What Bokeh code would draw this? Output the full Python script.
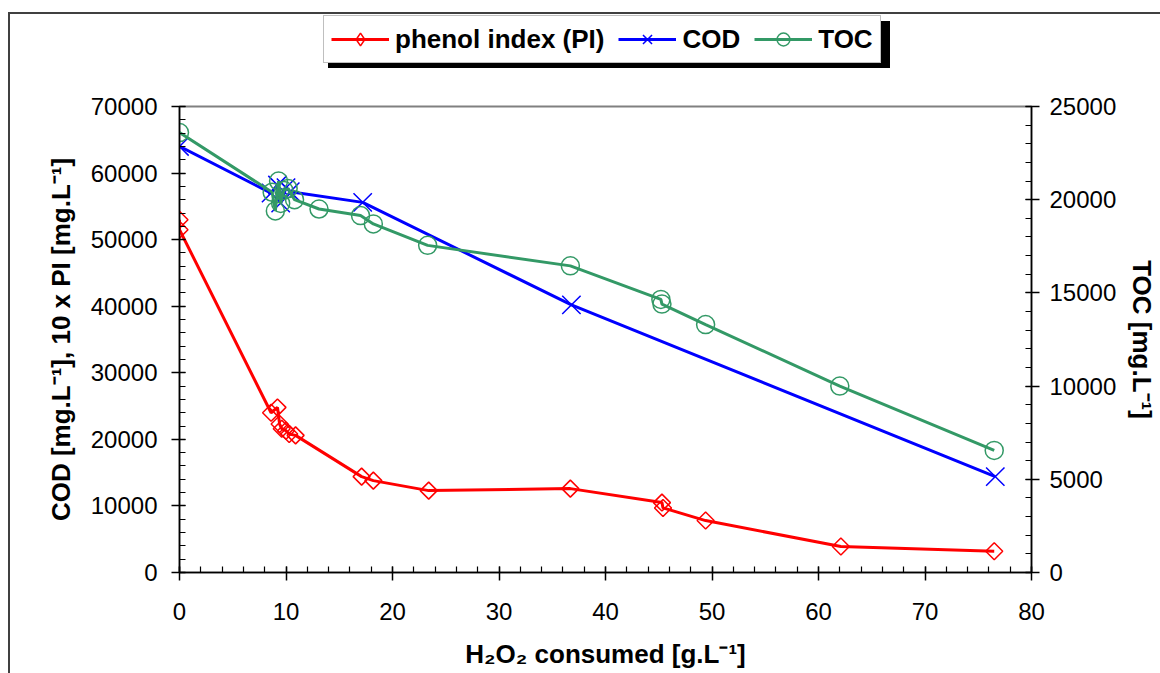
from bokeh.plotting import figure
from bokeh.layouts import column
from bokeh.models import (Range1d, LinearAxis, FixedTicker, BasicTickFormatter,
                          Legend, LegendItem, InlineStyleSheet)
from bokeh.embed import file_html
from bokeh.resources import INLINE

# ---------------- data ----------------
pi_x = [0.0, 0.0, 8.6, 9.2, 9.4, 9.6, 10.0, 10.3, 10.9, 17.1, 18.2, 23.4, 36.7, 45.3, 45.4, 49.4, 62.1, 76.5]
pi_y = [53000, 51500, 24000, 24800, 22300, 21600, 21300, 20800, 20600, 14400, 13800, 12300, 12600, 10500, 9700, 7800, 3900, 3200]

cod_x = [0.0, 8.6, 9.2, 9.5, 10.0, 10.4, 17.2, 36.8, 76.6]
cod_y = [64000, 57000, 58200, 55500, 57800, 57200, 55600, 40200, 14400]

toc_x = [0.0, 8.7, 9.0, 9.3, 9.5, 9.8, 10.2, 10.8, 13.1, 17.0, 18.2, 23.3, 36.7, 45.2, 45.3, 49.4, 62.0, 76.5]
toc_y = [23600, 20400, 19400, 21000, 19800, 20500, 20600, 20000, 19500, 19150, 18700, 17550, 16450, 14650, 14400, 13300, 10000, 6550]

x_ticks = [0, 10, 20, 30, 40, 50, 60, 70, 80]
x_minor = [v for v in range(0, 81, 2)]
left_ticks = [0, 10000, 20000, 30000, 40000, 50000, 60000, 70000]
left_minor = [v for v in range(0, 70001, 2000)]
right_ticks = [0, 5000, 10000, 15000, 20000, 25000]
right_minor = [v for v in range(0, 25001, 1000)]

labels = ["phenol index (PI)", "COD", "TOC"]
colors = ["#FF0000", "#0000FF", "#339966"]

FONT = "Liberation Sans"

# ---------------- main chart ----------------
p = figure(width=1150, height=587, output_backend="svg", toolbar_location=None,
           x_range=Range1d(0, 80), y_range=Range1d(0, 70000),
           min_border_left=169, min_border_right=129, min_border_top=20, min_border_bottom=101)
p.extra_y_ranges = {"toc": Range1d(0, 25000)}

p.xgrid.visible = False
p.ygrid.visible = False
p.background_fill_color = "white"
p.border_fill_alpha = 0
p.outline_line_color = "#808080"
p.outline_line_width = 2

right_axis = LinearAxis(y_range_name="toc")
p.add_layout(right_axis, "right")

def style_axis(ax, ticks, minor):
    ax.ticker = FixedTicker(ticks=ticks, minor_ticks=minor)
    ax.formatter = BasicTickFormatter(use_scientific=False)
    ax.axis_line_color = "black"
    ax.axis_line_width = 1.5
    ax.major_tick_line_color = "black"
    ax.major_tick_line_width = 1.5
    ax.minor_tick_line_color = "black"
    ax.minor_tick_line_width = 1.2
    ax.major_tick_in = 6
    ax.major_tick_out = 8
    ax.minor_tick_in = 6
    ax.minor_tick_out = 0
    ax.major_label_text_font = FONT
    ax.major_label_text_font_size = "24px"
    ax.major_label_text_color = "black"
    ax.axis_label_text_font = FONT
    ax.axis_label_text_font_size = "26px"
    ax.axis_label_text_font_style = "bold"
    ax.axis_label_text_color = "black"

xa = p.xaxis[0]
ya = p.yaxis[0]
style_axis(xa, x_ticks, x_minor)
style_axis(ya, left_ticks, left_minor)
style_axis(right_axis, right_ticks, right_minor)

xa.axis_label = "H\u2082O\u2082 consumed [g.L\u207b\u00b9]"
xa.major_label_standoff = 22
xa.axis_label_standoff = 16
ya.axis_label = "COD [mg.L\u207b\u00b9], 10 x PI [mg.L\u207b\u00b9]"
ya.major_label_standoff = 14
ya.axis_label_standoff = 12
right_axis.axis_label = "TOC [mg.L\u207b\u00b9]"
right_axis.major_label_standoff = 10
right_axis.axis_label_standoff = 8

p.line(pi_x, pi_y, line_color=colors[0], line_width=3)
p.scatter(pi_x, pi_y, marker="square", angle=0.785398, size=12,
          fill_color=None, line_color=colors[0], line_width=1.5)

p.line(cod_x, cod_y, line_color=colors[1], line_width=3)
p.scatter(cod_x, cod_y, marker="x", size=26, line_color=colors[1], line_width=1.5)

p.line(toc_x, toc_y, line_color=colors[2], line_width=3, y_range_name="toc")
p.scatter(toc_x, toc_y, marker="circle", size=18, fill_color=None,
          line_color=colors[2], line_width=1.5, y_range_name="toc")

# ---------------- legend strip above the chart ----------------
# (its frame is aligned with the chart's frame by the column layout; the series drawn
#  here all fall outside its 0..1 ranges, so only the legend glyphs are visible)
lg = figure(width=1150, height=72, output_backend="svg", toolbar_location=None,
            x_range=Range1d(0, 1), y_range=Range1d(0, 1),
            min_border_left=0, min_border_right=0, min_border_top=0, min_border_bottom=0)
lg.axis.visible = False
lg.xgrid.visible = False
lg.ygrid.visible = False
lg.outline_line_color = None
lg.background_fill_alpha = 0
lg.border_fill_alpha = 0
# drop shadow behind the legend box
lg.stylesheets = [InlineStyleSheet(css=":host::before { content: ''; position: absolute; "
                                       "left: 318px; top: 7px; width: 562px; height: 47px; "
                                       "background: black; }")]

l_pi = [lg.line(pi_x, pi_y, line_color=colors[0], line_width=3),
        lg.scatter(pi_x, pi_y, marker="diamond", fill_color=None, line_color=colors[0], line_width=1.5)]
l_cod = [lg.line(cod_x, cod_y, line_color=colors[1], line_width=3),
         lg.scatter(cod_x, cod_y, marker="x", line_color=colors[1], line_width=1.5)]
l_toc = [lg.line(toc_x, toc_y, line_color=colors[2], line_width=3),
         lg.scatter(toc_x, toc_y, marker="circle", fill_color=None, line_color=colors[2], line_width=1.5)]

legend = Legend(items=[
    LegendItem(label=labels[0], renderers=l_pi),
    LegendItem(label=labels[1], renderers=l_cod),
    LegendItem(label=labels[2], renderers=l_toc),
], location=(144, 23), orientation="horizontal",
    label_text_font=FONT, label_text_font_size="26px", label_text_font_style="bold",
    label_text_color="black", glyph_width=58, glyph_height=32, label_standoff=6,
    spacing=14, padding=7, margin=0, border_line_color="#808080", border_line_width=1.5,
    background_fill_color="white", background_fill_alpha=1)
lg.add_layout(legend, "center")

layout = column(lg, p, spacing=0,
                styles={"margin-left": "8px", "margin-top": "12px",
                        "border-left": "2px solid #404040", "border-top": "2px solid #404040"})

open("out.html", "w").write(file_html(layout, INLINE))
